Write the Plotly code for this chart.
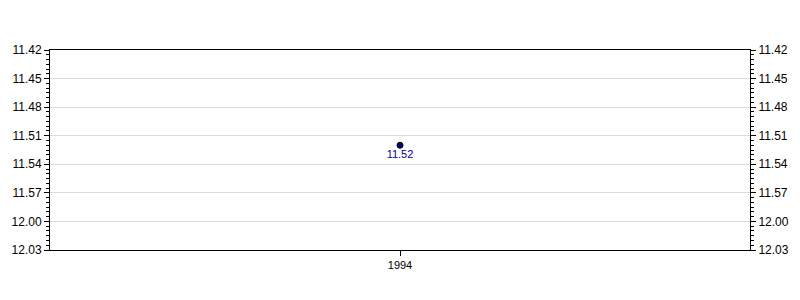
import plotly.graph_objects as go

years = ["1994"]
times = ["11.52"]
tick_labels = ["11.42", "11.45", "11.48", "11.51", "11.54", "11.57", "12.00", "12.03"]


def to_minutes(s):
    h, m = s.split(".")
    return int(h) * 60 + int(m)


y_vals = [to_minutes(t) for t in times]
tick_vals = [to_minutes(t) for t in tick_labels]
y_range = [max(tick_vals), min(tick_vals)]

font = dict(family="Liberation Sans, Arial, sans-serif", size=12, color="#000000")
xfont = dict(family="Liberation Sans, Arial, sans-serif", size=11, color="#000000")

fig = go.Figure()
fig.add_trace(go.Scatter(
    x=years, y=y_vals, mode="markers+text",
    text=times, textposition="bottom center",
    textfont=dict(family="Liberation Sans, Arial, sans-serif", size=11, color="#0000a0"),
    marker=dict(color="#000080", size=6, line=dict(color="#000000", width=1)),
    showlegend=False, hoverinfo="skip",
))
fig.add_trace(go.Scatter(
    x=years, y=y_vals, mode="markers", yaxis="y2",
    marker=dict(opacity=0), showlegend=False, hoverinfo="skip",
))

axis_common = dict(
    range=y_range, tickmode="array", tickvals=tick_vals, ticktext=tick_labels,
    showline=True, linecolor="#000000", linewidth=1,
    ticks="outside", ticklen=5, tickcolor="#000000", tickwidth=1,
    tickfont=font, zeroline=False,
    minor=dict(dtick=0.5, ticks="outside", ticklen=3, tickcolor="#000000", showgrid=False),
)

fig.update_layout(
    width=800, height=300,
    margin=dict(l=50, r=50, t=50, b=50),
    paper_bgcolor="#ffffff", plot_bgcolor="#ffffff",
    font=font,
    xaxis=dict(
        type="category", range=[-1, 1], showline=True, linecolor="#000000",
        linewidth=1, mirror=True, ticks="outside", ticklen=5, tickcolor="#000000",
        tickfont=xfont, showgrid=False, zeroline=False,
    ),
    yaxis=dict(**axis_common, showgrid=True, gridcolor="#dcdcdc", gridwidth=1, side="left"),
    yaxis2=dict(**axis_common, showgrid=False, side="right", overlaying="y"),
)

fig.write_html("out.html")
